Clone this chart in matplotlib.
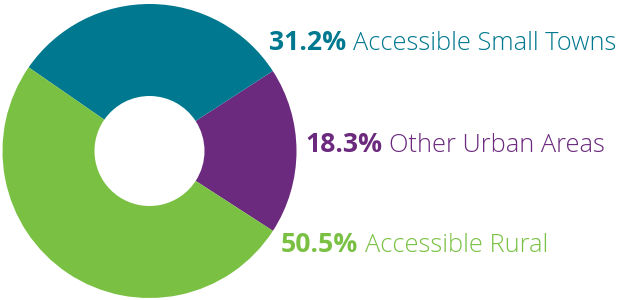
import matplotlib
matplotlib.use("Agg")
import matplotlib.pyplot as plt

categories = ["Other Urban Areas", "Accessible Small Towns", "Accessible Rural"]
values = [18.3, 31.2, 50.5]
colors = ["#6B2A7D", "#00788F", "#7AC143"]
pct_labels = ["18.3%", "31.2%", "50.5%"]

W, H = 623, 300
fig = plt.figure(figsize=(W / 100, H / 100), dpi=100)
fig.patch.set_facecolor("white")

cx, cy, r = 149.5, 300 - 151, 147
ax = fig.add_axes([(cx - r) / W, (cy - r) / H, 2 * r / W, 2 * r / H])
ax.pie(values, colors=colors, startangle=-32.9, counterclock=True,
       radius=1.0, wedgeprops=dict(width=1 - 55 / 147, linewidth=0))
ax.set_xlim(-1, 1)
ax.set_ylim(-1, 1)
ax.set_aspect("equal")
ax.axis("off")

# label positions (left x px, baseline y px from top)
positions = {"Accessible Small Towns": (269, 49.5),
             "Other Urban Areas": (305, 152.3),
             "Accessible Rural": (281, 252.5)}

fig.canvas.draw()
renderer = fig.canvas.get_renderer()
for cat, pct, col in zip(categories, pct_labels, colors):
    x, y = positions[cat]
    t1 = fig.text(x / W, 1 - y / H, pct, fontsize=19.2, fontweight="bold",
                  family="Open Sans", color=col, va="baseline", ha="left")
    bb = t1.get_window_extent(renderer=renderer)
    fig.text((bb.x1 + 7) / W, 1 - y / H, cat, fontsize=18.3, fontweight="light",
             family="Open Sans", color=col, va="baseline", ha="left")

fig.savefig("out.png", dpi=100, facecolor="white")
